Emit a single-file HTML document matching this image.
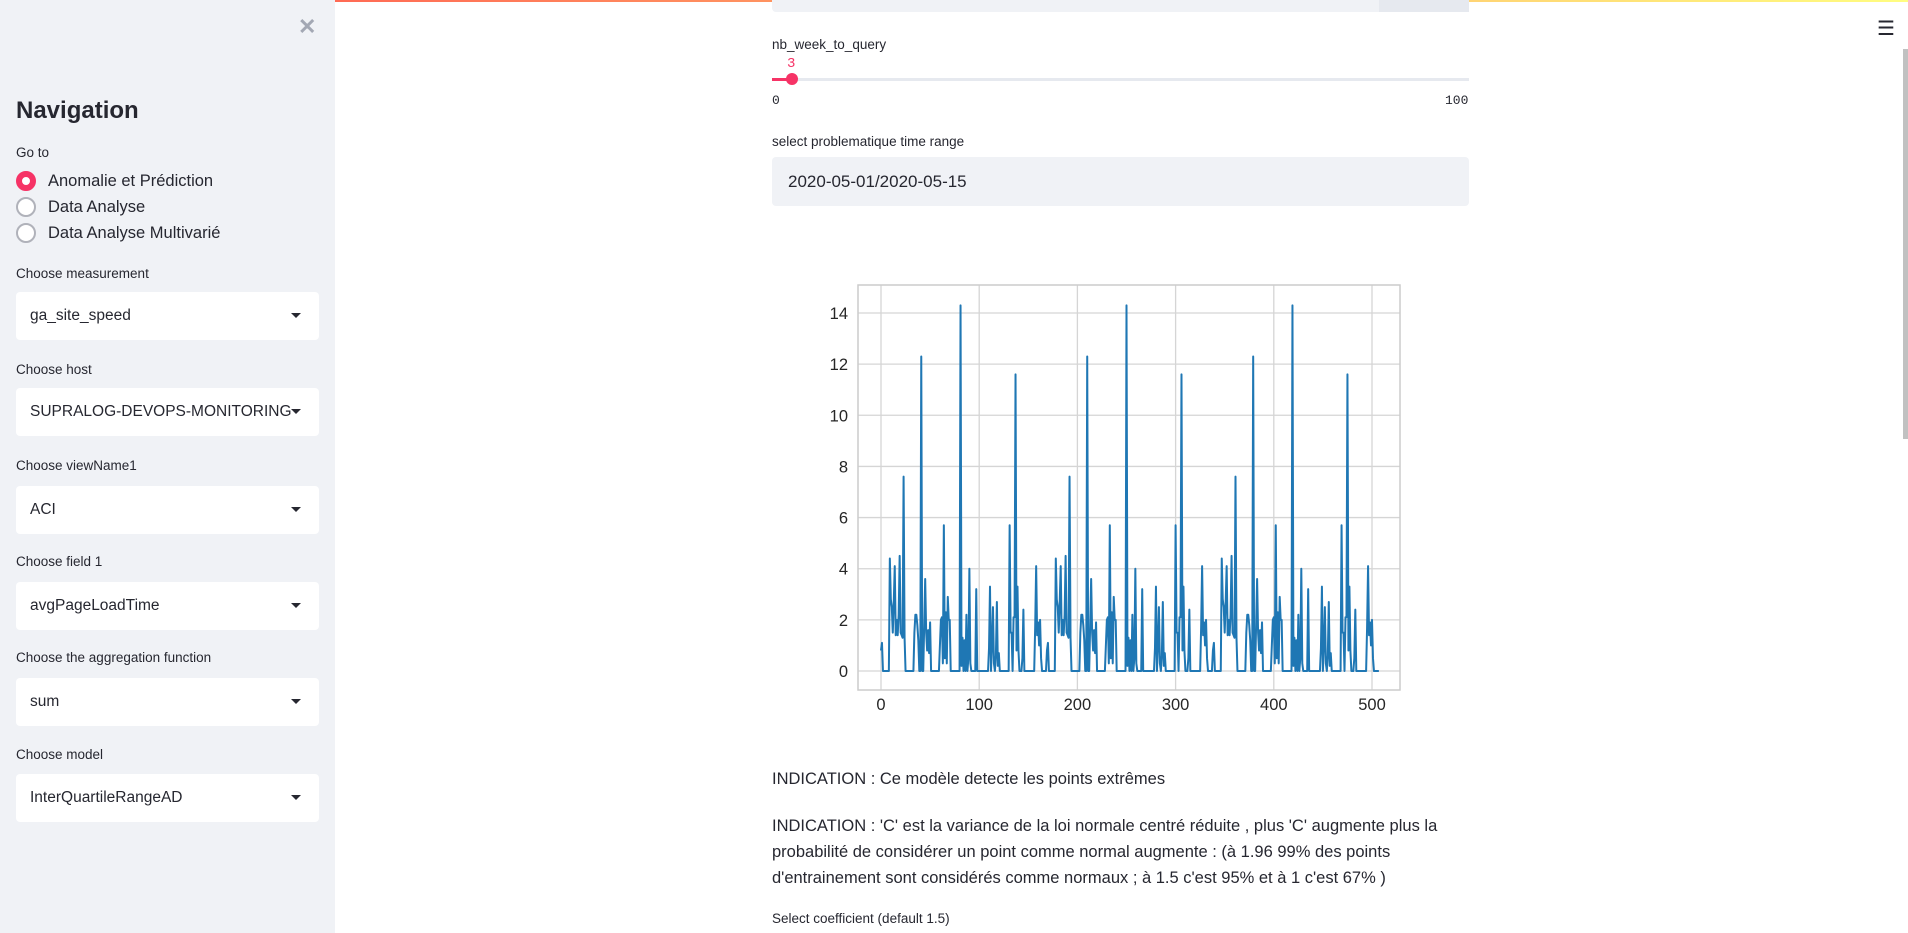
<!DOCTYPE html>
<html><head><meta charset="utf-8">
<style>
*{box-sizing:border-box;margin:0;padding:0}
body{width:1908px;height:933px;overflow:hidden;background:#fff;font-family:"Liberation Sans",sans-serif;color:#262730;position:relative}
.abs{position:absolute}
.sb{left:0;top:0;width:335px;height:933px;background:#f0f2f6}
.lbl{font-size:13.5px;color:#262730}
.sel{left:16px;width:303px;height:48px;background:#fff;border-radius:4px;font-size:15.5px;padding:0 0 0 14px;line-height:48px}
.sel:after{content:"";position:absolute;right:18px;top:21px;border-left:5px solid transparent;border-right:5px solid transparent;border-top:5px solid #262730}
.radio{left:16px;font-size:16.5px}
.radio i{position:absolute;left:0;top:0;width:20px;height:20px;border-radius:50%;border:2px solid #b0b2ba;background:#fff}
.radio span{position:absolute;left:32px;top:0;white-space:nowrap;line-height:20px}
.p{left:772px;font-size:16.5px;white-space:nowrap}
</style></head><body>
<div class="abs" style="left:0;top:0;width:1908px;height:2px;background:linear-gradient(90deg,#ff4b4b,#fffd80)"></div>
<div class="abs sb">
  <div class="abs" style="left:298px;top:14px;font-size:22px;color:#a3a8b4;font-weight:bold">✕</div>
  <div class="abs" style="left:16px;top:97px;font-size:24px;font-weight:bold;color:#262730">Navigation</div>
  <div class="abs lbl" style="left:16px;top:145px">Go to</div>
  <div class="abs radio" style="top:171px"><i style="border:6px solid #f63366;background:#fff"></i><span>Anomalie et Prédiction</span></div>
  <div class="abs radio" style="top:197px"><i></i><span>Data Analyse</span></div>
  <div class="abs radio" style="top:223px"><i></i><span>Data Analyse Multivarié</span></div>
  <div class="abs lbl" style="left:16px;top:266px">Choose measurement</div>
  <div class="abs sel" style="top:292px">ga_site_speed</div>
  <div class="abs lbl" style="left:16px;top:362px">Choose host</div>
  <div class="abs sel" style="top:388px">SUPRALOG-DEVOPS-MONITORING</div>
  <div class="abs lbl" style="left:16px;top:458px">Choose viewName1</div>
  <div class="abs sel" style="top:486px">ACI</div>
  <div class="abs lbl" style="left:16px;top:554px">Choose field 1</div>
  <div class="abs sel" style="top:582px">avgPageLoadTime</div>
  <div class="abs lbl" style="left:16px;top:650px">Choose the aggregation function</div>
  <div class="abs sel" style="top:678px">sum</div>
  <div class="abs lbl" style="left:16px;top:747px">Choose model</div>
  <div class="abs sel" style="top:774px">InterQuartileRangeAD</div>
</div>
<div class="abs" style="left:1877px;top:16px;font-size:20px;color:#262730">☰</div>
<div class="abs" style="left:1903px;top:49px;width:5px;height:390px;background:#c1c1c1"></div>
<div class="abs" style="left:772px;top:0;width:697px;height:12px;background:#f0f2f6;border-radius:0 0 4px 4px"><div style="position:absolute;right:0;top:0;width:90px;height:12px;background:#e6e9ef"></div></div>
<div class="abs lbl" style="left:772px;top:37px">nb_week_to_query</div>
<div class="abs" style="left:787px;top:56px;font-size:14px;color:#f63366;font-family:'Liberation Mono',monospace">3</div>
<div class="abs" style="left:772px;top:78px;width:697px;height:3px;background:#e6e9ef"></div>
<div class="abs" style="left:772px;top:78px;width:20px;height:3px;background:#f63366"></div>
<div class="abs" style="left:786px;top:73px;width:12px;height:12px;border-radius:50%;background:#f63366"></div>
<div class="abs" style="left:772px;top:93px;font-size:13px;font-family:'Liberation Mono',monospace">0</div>
<div class="abs" style="left:1445px;top:93px;font-size:13px;font-family:'Liberation Mono',monospace">100</div>
<div class="abs lbl" style="left:772px;top:134px">select problematique time range</div>
<div class="abs" style="left:772px;top:157px;width:697px;height:49px;background:#f0f2f6;border-radius:4px;font-size:17px;line-height:49px;padding-left:16px">2020-05-01/2020-05-15</div>
<svg class="abs" style="left:0;top:0" width="1908" height="933" id="chart"></svg>
<div class="abs p" style="top:770px">INDICATION : Ce modèle detecte les points extrêmes</div>
<div class="abs p" style="top:813px;line-height:26px">INDICATION : 'C' est la variance de la loi normale centré réduite , plus 'C' augmente plus la<br>probabilité de considérer un point comme normal augmente : (à 1.96 99% des points<br>d'entrainement sont considérés comme normaux ; à 1.5 c'est 95% et à 1 c'est 67% )</div>
<div class="abs lbl" style="left:772px;top:911px">Select coefficient (default 1.5)</div>
<script>
const weekA=[0.8,1.1,0,0,0,0,0,0,0,4.4, 2.8,2.5,1.5,2.7,4.1,1.4,2.0,1.4,2.2,4.5, 1.5,1.4,1.3,7.6,1.3,0,0,0,0,0, 0,0,0,0,1.5,2.2,2.2,1.8,1.2,0, 0,12.3,0,0,1.8,3.6,1.5,0.8,1.6,0.7, 1.9,0,0,0,0,0,0,0,0,0, 1.0,2.0,2.1,0.3,5.7,0.5,2.3,0.3,2.9,2.0, 2.0,0,0,0,0,0,0,0,0,0, 0,14.3,0.2,1.3,0,1.2,0,2.2,0,0.5, 4.0,0.3,0,0,0,0,0,3.2,0,0, 0,0,0,0,0,0,0,0,0,0, 0.9,3.3,0,1.0,2.5,0.3,0,0.6,2.7,0.2, 0.7,0,0,0,0,0,0,0,0,0, 0,5.7,1.5,1.5,0,2.1,2.1,11.6,0.8,3.3, 0.8,0,0,0,0.5,2.4,0,0,0,0, 0,0,0,0,0,0,0,1.7,4.1,1.4, 1.9,1.0,2.0,0.5,0,0,0,0,0];
const weekB=[0.8,1.1,0,0,0,0,0,0,0,4.4, 2.8,2.5,1.5,2.7,4.1,1.4,2.0,1.4,2.2,4.5, 1.5,1.4,1.3,7.6,1.3,0,0,0,0,0, 0,0,0,0,1.5,2.2,2.2,1.8,1.2,0, 0,12.3,0,0,1.8,3.6,1.5,0.8,1.6,0.7, 1.9,0,0,0,0,0,0,0,0,0, 1.0,2.0,2.1,0.3,5.7,0.5,2.3,0.3,2.9,2.0, 2.0,0,0,0,0,0,0,0,0,0, 0,14.3,0.2,1.3,0,1.2,0,2.2,0,0.5, 4.0,0.3,0,0,0,0,0,3.2,0,0, 0,0,0,0,0,0,0,0,0,0, 0.9,3.3,0,1.0,2.5,0.3,0,0.6,2.7,0.2, 0.7,0,0,0,0,0,0,0,0,0, 0,5.7,1.5,1.5,0,2.1,2.1,11.6,0.8,3.3, 0.8,0,0,0,0.5,2.4,0,0,0,0, 0,0,0,0,0,0,0,1.7,4.1,1.4, 1.9,1.0,2.0,0.5,0,0,0,0,0];
const weekC=[0.8,1.1,0,0,0,0,0,0,0,4.4, 2.8,2.5,1.5,2.7,4.1,1.4,2.0,1.4,2.2,4.5, 1.5,1.4,1.3,7.6,1.3,0,0,0,0,0, 0,0,0,0,1.5,2.2,2.2,1.8,1.2,0, 0,12.3,0,0,1.8,3.6,1.5,0.8,1.6,0.7, 1.9,0,0,0,0,0,0,0,0,0, 1.0,2.0,2.1,0.3,5.7,0.5,2.3,0.3,2.9,2.0, 2.0,0,0,0,0,0,0,0,0,0, 0,14.3,0.2,1.3,0,1.2,0,2.2,0,0.5, 4.0,0.3,0,0,0,0,0,3.2,0,0, 0,0,0,0,0,0,0,0,0,0, 0.9,3.3,0,1.0,2.5,0.3,0,0.6,2.7,0.2, 0.7,0,0,0,0,0,0,0,0,0, 0,5.7,1.5,1.5,0,2.1,2.1,11.6,0.8,3.3, 0.8,0,0,0,0.5,2.4,0,0,0,0, 0,0,0,0,0,0,0,1.7,4.1,1.4, 1.9,1.0,2.0,0.5,0,0,0,0,0,0];
const xTicks=[0,100,200,300,400,500];
const yTicks=[0,2,4,6,8,10,12,14];
const series=weekA.concat(weekB,weekC);
const NS="http://www.w3.org/2000/svg";
const svg=document.getElementById('chart');
const L=858,T=285,R=1400,B=690;
function xs(v){return 881+v*(1372-881)/500;}
function ys(v){return 671-v*(671-313)/14;}
function mk(tag,attrs){const e=document.createElementNS(NS,tag);for(const k in attrs)e.setAttribute(k,attrs[k]);svg.appendChild(e);return e;}
xTicks.forEach(t=>{
  const g=mk('line',{x1:xs(t),x2:xs(t),y1:T,y2:B,stroke:'#d5d5d5','stroke-width':1.3});
  
  
  const tx=mk('text',{x:xs(t),y:B+20,'text-anchor':'middle','font-size':16.5,fill:'#262626','font-family':'Liberation Sans, sans-serif'});
  tx.textContent=t;
  
  
});
yTicks.forEach(t=>{
  const g=mk('line',{x1:L,x2:R,y1:ys(t),y2:ys(t),stroke:'#d5d5d5','stroke-width':1.3});
  
  
  const tx=mk('text',{x:L-10,y:ys(t)+6,'text-anchor':'end','font-size':16.5,fill:'#262626','font-family':'Liberation Sans, sans-serif'});
  tx.textContent=t;
  
  
});
const fr=mk('rect',{x:L,y:T,width:R-L,height:B-T,fill:'none',stroke:'#cccccc','stroke-width':1.5});


const pts=series.map((v,i)=>xs(i).toFixed(2)+','+ys(v).toFixed(2)).join(' ');
const ln=mk('polyline',{points:pts,fill:'none',stroke:'#1f77b4','stroke-width':2,'stroke-linejoin':'round'});


</script>
</body></html>
